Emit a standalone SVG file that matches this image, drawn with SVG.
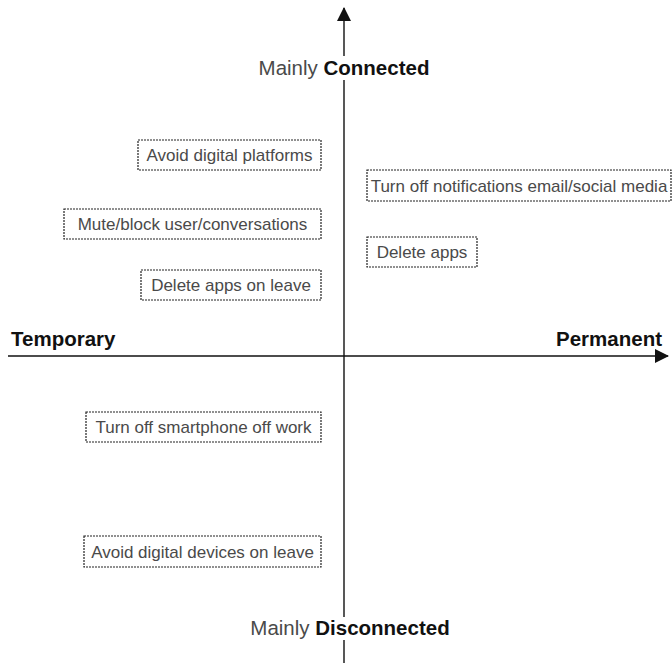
<svg xmlns="http://www.w3.org/2000/svg" width="672" height="663" viewBox="0 0 672 663">
<style>
.box{fill:#fff;stroke:#222;stroke-width:1.2;stroke-dasharray:2 1}
.t{font-family:"Liberation Sans",Arial,sans-serif;font-size:17px;fill:#4a4a4a;text-anchor:middle}
.ax{stroke:#111;stroke-width:1.4;fill:none}
.lbl{font-family:"Liberation Sans",Arial,sans-serif;font-size:20.5px}
.light{fill:#4a4a4a}
.bold{font-weight:bold;fill:#111}
</style>
<defs>
<marker id="ah" viewBox="0 0 14 14" markerWidth="14" markerHeight="14" refX="13" refY="7" orient="auto" markerUnits="userSpaceOnUse">
<path d="M0,0 L14,7 L0,14 Z" fill="#111"/>
</marker>
</defs>
<g id="connectors">
<line class="ax" x1="344" y1="56" x2="344" y2="8" marker-end="url(#ah)"/>
<line class="ax" x1="344" y1="80" x2="344" y2="617"/>
<line class="ax" x1="344" y1="640" x2="344" y2="663"/>
<line class="ax" x1="8" y1="356" x2="668" y2="356" marker-end="url(#ah)"/>
</g>
<g id="axis-labels">
<text class="lbl" x="344" y="75" text-anchor="middle"><tspan class="light">Mainly </tspan><tspan class="bold">Connected</tspan></text>
<text class="lbl" x="350" y="635" text-anchor="middle"><tspan class="light">Mainly </tspan><tspan class="bold">Disconnected</tspan></text>
<text class="lbl bold" x="11" y="346">Temporary</text>
<text class="lbl bold" x="662" y="346" text-anchor="end">Permanent</text>
</g>
<g id="n1"><rect class="box" x="138" y="140" width="183" height="30"/><text class="t" x="229.5" y="161">Avoid digital platforms</text></g>
<g id="n2"><rect class="box" x="367" y="170" width="304" height="31"/><text class="t" x="519" y="192">Turn off notifications email/social media</text></g>
<g id="n3"><rect class="box" x="64" y="209" width="257" height="30"/><text class="t" x="192.5" y="230">Mute/block user/conversations</text></g>
<g id="n4"><rect class="box" x="367" y="237" width="110" height="30"/><text class="t" x="422" y="258">Delete apps</text></g>
<g id="n5"><rect class="box" x="141" y="270" width="180" height="30"/><text class="t" x="231" y="291">Delete apps on leave</text></g>
<g id="n6"><rect class="box" x="86" y="412" width="235" height="30"/><text class="t" x="203.5" y="433">Turn off smartphone off work</text></g>
<g id="n7"><rect class="box" x="84" y="536" width="237" height="31"/><text class="t" x="202.5" y="558">Avoid digital devices on leave</text></g>
</svg>
